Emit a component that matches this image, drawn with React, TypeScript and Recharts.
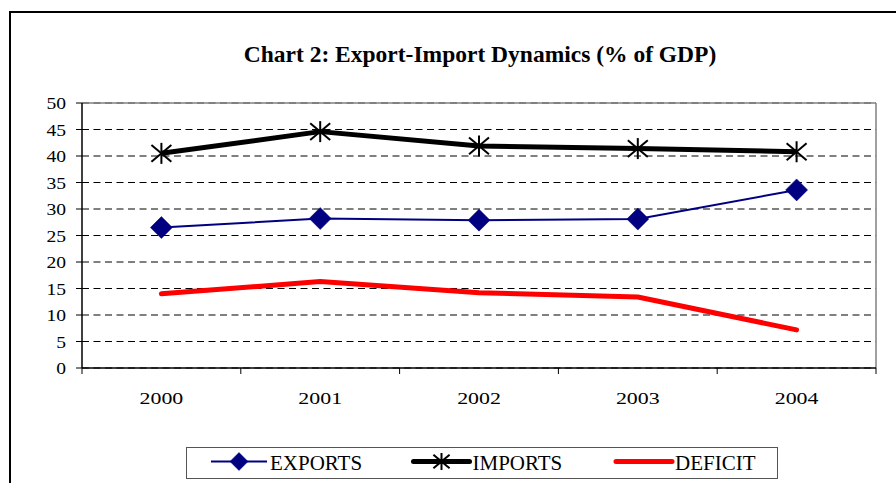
import React from 'react';
import { LineChart, Line, XAxis, YAxis, CartesianGrid, ReferenceLine } from 'recharts';

const YEARS = ['2000', '2001', '2002', '2003', '2004'];
const EXPORTS = [26.5, 28.2, 27.9, 28.1, 33.6];
const IMPORTS = [40.5, 44.6, 41.9, 41.4, 40.8];
const DEFICIT = [14.0, 16.3, 14.2, 13.4, 7.2];
const Y_TICKS = [0, 5, 10, 15, 20, 25, 30, 35, 40, 45, 50];
const TITLE = 'Chart 2: Export-Import Dynamics (% of GDP)';

const SERIES = [
  { key: 'exports', name: 'EXPORTS', color: '#000080', width: 2, marker: 'diamond' },
  { key: 'imports', name: 'IMPORTS', color: '#000000', width: 5, marker: 'star' },
  { key: 'deficit', name: 'DEFICIT', color: '#FF0000', width: 5, marker: 'none' },
];

const data = YEARS.map((year, i) => ({
  idx: i,
  year,
  exports: EXPORTS[i],
  imports: IMPORTS[i],
  deficit: DEFICIT[i],
}));

const X_TICKS = [-0.5, ...YEARS.flatMap((_, i) => [i, i + 0.5])];
const X_DOMAIN = [-0.5, YEARS.length - 0.5];
const Y_MAX = Y_TICKS[Y_TICKS.length - 1];

const FONT = '"Liberation Serif", "Times New Roman", serif';

function Diamond({ cx, cy, r, color }: { cx: number; cy: number; r: number; color: string }) {
  return (
    <path
      d={`M${cx},${cy - r} L${cx + r},${cy} L${cx},${cy + r} L${cx - r},${cy} Z`}
      fill={color}
      stroke={color}
      strokeWidth={0.5}
    />
  );
}

function Star({ cx, cy, r, color }: { cx: number; cy: number; r: number; color: string }) {
  const dx = r * 0.95;
  const dy = r * 0.8;
  return (
    <g stroke={color} strokeWidth={2}>
      <line x1={cx - dx} y1={cy - dy} x2={cx + dx} y2={cy + dy} />
      <line x1={cx - dx} y1={cy + dy} x2={cx + dx} y2={cy - dy} />
      <line x1={cx} y1={cy - r} x2={cx} y2={cy + r} />
    </g>
  );
}

const XTick = (props: any) => {
  const { x, y, payload } = props;
  const v = payload.value;
  if (Number.isInteger(v)) {
    return (
      <text
        transform={`translate(${x},${y + 24}) scale(1.25,1)`}
        textAnchor="middle"
        dy="0.71em"
        fontSize={17.5}
        fontFamily={FONT}
        fill="#000"
      >
        {YEARS[v]}
      </text>
    );
  }
  return <line x1={x} y1={y} x2={x} y2={y + 6} stroke="#000" strokeWidth={1} />;
};

const YTick = (props: any) => {
  const { x, y, payload } = props;
  return (
    <text
      transform={`translate(${x},${y}) scale(1.12,1)`}
      textAnchor="end"
      dy="0.355em"
      fontSize={17.5}
      fontFamily={FONT}
      fill="#000"
    >
      {payload.value}
    </text>
  );
};

const renderDiamond = (props: any) => {
  const { cx, cy, index } = props;
  return <Diamond key={`dm-${index}`} cx={cx} cy={cy} r={11} color="#000080" />;
};

const renderStar = (props: any) => {
  const { cx, cy, index } = props;
  return <Star key={`st-${index}`} cx={cx} cy={cy} r={10.5} color="#000000" />;
};

export default function App() {
  return (
    <div
      style={{
        position: 'absolute',
        left: 0,
        top: 0,
        width: 896,
        height: 483,
        overflow: 'hidden',
        background: '#fff',
      }}
    >
      <div
        style={{
          position: 'absolute',
          left: 9,
          top: 11,
          width: 920,
          height: 520,
          border: '2px solid #000',
          boxSizing: 'border-box',
        }}
      />
      <div style={{ position: 'absolute', left: 0, top: 0 }}>
        <LineChart
          width={896}
          height={483}
          data={data}
          margin={{ top: 103, right: 20, bottom: 75, left: 22 }}
        >
          <CartesianGrid vertical={false} stroke="#000" strokeDasharray="7 4.5" />
          <ReferenceLine y={Y_MAX} stroke="#808080" strokeWidth={1.5} />
          <ReferenceLine x={X_DOMAIN[1]} stroke="#808080" strokeWidth={1.5} />
          <XAxis
            dataKey="idx"
            type="number"
            domain={X_DOMAIN}
            ticks={X_TICKS}
            interval={0}
            height={40}
            tickSize={0}
            tickMargin={0}
            tickLine={false}
            axisLine={{ stroke: '#000', strokeWidth: 1.5 }}
            tick={<XTick />}
          />
          <YAxis
            width={60}
            domain={[0, Y_MAX]}
            ticks={Y_TICKS}
            interval={0}
            tickSize={6}
            tickMargin={10}
            tickLine={{ stroke: '#000' }}
            axisLine={{ stroke: '#000', strokeWidth: 1.5 }}
            tick={<YTick />}
          />
          <Line
            dataKey="deficit"
            name="DEFICIT"
            stroke="#FF0000"
            strokeWidth={5}
            strokeLinecap="round"
            strokeLinejoin="round"
            dot={false}
            activeDot={false}
            isAnimationActive={false}
          />
          <Line
            dataKey="exports"
            name="EXPORTS"
            stroke="#000080"
            strokeWidth={2}
            dot={renderDiamond}
            activeDot={false}
            isAnimationActive={false}
          />
          <Line
            dataKey="imports"
            name="IMPORTS"
            stroke="#000000"
            strokeWidth={5}
            strokeLinejoin="round"
            dot={renderStar}
            activeDot={false}
            isAnimationActive={false}
          />
        </LineChart>
      </div>
      <svg
        width={896}
        height={483}
        style={{ position: 'absolute', left: 0, top: 0, pointerEvents: 'none' }}
      >
        <text
          x={480}
          y={62}
          textAnchor="middle"
          fontFamily={FONT}
          fontWeight="bold"
          fontSize={23.5}
          fill="#000"
        >
          {TITLE}
        </text>
        <rect x={186.5} y={447.5} width={591} height={31} fill="#fff" stroke="#555" strokeWidth={1} />
        {SERIES.map((s, i) => {
          const x0 = 211 + i * 202.5;
          const cy = 461.5;
          return (
            <g key={s.key}>
              <line
                x1={x0}
                y1={cy}
                x2={x0 + 56}
                y2={cy}
                stroke={s.color}
                strokeWidth={s.width}
                strokeLinecap={s.width > 3 ? 'round' : 'butt'}
              />
              {s.marker === 'diamond' && <Diamond cx={x0 + 28} cy={cy} r={9} color={s.color} />}
              {s.marker === 'star' && <Star cx={x0 + 28} cy={cy} r={8.5} color={s.color} />}
              <text x={x0 + 59} y={470} fontFamily={FONT} fontSize={21} fill="#000">
                {s.name}
              </text>
            </g>
          );
        })}
      </svg>
    </div>
  );
}
